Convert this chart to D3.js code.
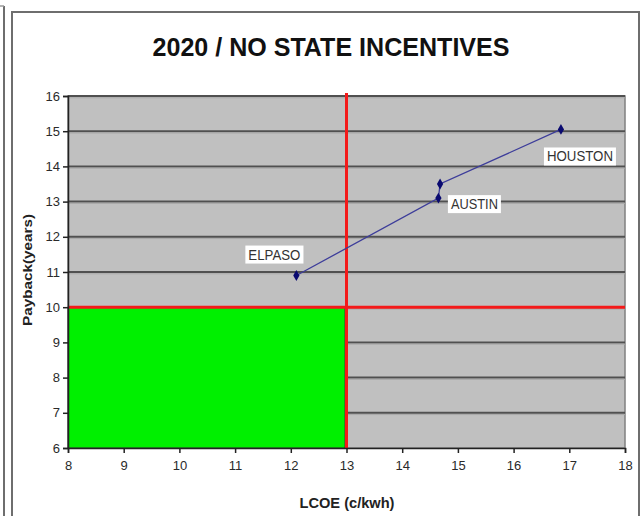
<!DOCTYPE html>
<html>
<head>
<meta charset="utf-8">
<script src="https://cdn.jsdelivr.net/npm/d3@7"></script>
<style>
  html, body { margin: 0; padding: 0; background: #fff; }
  svg { display: block; font-family: "Liberation Sans", Arial, sans-serif; }
</style>
</head>
<body>
<svg id="chart" width="641" height="516"></svg>
<script>
// City results: levelized cost of energy vs. payback period
const cities   = ["ELPASO", "AUSTIN", "", "HOUSTON"];
const lcoe     = [12.1, 14.65, 14.68, 16.85];
const payback  = [10.9, 13.1, 13.5, 15.05];

// Target thresholds (shaded "good" zone lies below/left of these)
const lcoeTarget = 13;
const paybackTarget = 10;

// Axis ticks
const xTicks = [8, 9, 10, 11, 12, 13, 14, 15, 16, 17, 18];
const yTicks = [6, 7, 8, 9, 10, 11, 12, 13, 14, 15, 16];

const titleText = "2020 / NO STATE INCENTIVES";
const xTitle = "LCOE (c/kwh)";
const yTitle = "Payback(years)";

const svg = d3.select("#chart");

const x = d3.scaleLinear().domain([8, 18]).range([68, 625]);
const y = d3.scaleLinear().domain([6, 16]).range([448, 96]);

// Outer frame
svg.append("line").attr("x1", 4).attr("x2", 4).attr("y1", 6).attr("y2", 516)
  .attr("stroke", "#6e6e6e").attr("stroke-width", 2);
svg.append("line").attr("x1", 0).attr("x2", 4).attr("y1", 6).attr("y2", 6)
  .attr("stroke", "#9a9a9a").attr("stroke-width", 1.5);
svg.append("rect").attr("x", 12).attr("y", 12).attr("width", 627).attr("height", 520)
  .attr("fill", "#fff").attr("stroke", "#6e6e6e").attr("stroke-width", 2);

// Plot area
svg.append("rect")
  .attr("x", x(8)).attr("y", y(16))
  .attr("width", x(18) - x(8)).attr("height", y(6) - y(16))
  .attr("fill", "#c0c0c0").attr("stroke", "#808080").attr("stroke-width", 1.5);

// Horizontal gridlines
svg.append("g").selectAll("line")
  .data(yTicks.filter(v => v > 6))
  .join("line")
  .attr("x1", x(8)).attr("x2", x(18))
  .attr("y1", d => y(d)).attr("y2", d => y(d))
  .attr("stroke", "#505050").attr("stroke-width", 2);
svg.append("g").selectAll("line")
  .data(yTicks.filter(v => v > 6))
  .join("line")
  .attr("x1", x(8)).attr("x2", x(18))
  .attr("y1", d => y(d) + 1.8).attr("y2", d => y(d) + 1.8)
  .attr("stroke", "#a8a8a8").attr("stroke-width", 1);

// Target zone
svg.append("rect")
  .attr("x", x(8)).attr("y", y(paybackTarget))
  .attr("width", x(lcoeTarget) - x(8) - 1.5)
  .attr("height", y(6) - y(paybackTarget))
  .attr("fill", "#00f000").attr("stroke", "#3a3a3a").attr("stroke-width", 1);

// Threshold lines
svg.append("line")
  .attr("x1", x(8)).attr("x2", x(18))
  .attr("y1", y(paybackTarget)).attr("y2", y(paybackTarget))
  .attr("stroke", "#f41a1a").attr("stroke-width", 3);
svg.append("line")
  .attr("x1", x(lcoeTarget)).attr("x2", x(lcoeTarget))
  .attr("y1", y(16) - 3).attr("y2", y(6))
  .attr("stroke", "#f41a1a").attr("stroke-width", 3);

// Axes
const yAxis = svg.append("g")
  .attr("transform", `translate(${x(8)},0)`)
  .call(d3.axisLeft(y).tickValues(yTicks).tickFormat(d3.format("d")).tickSize(5).tickPadding(3));
const xAxis = svg.append("g")
  .attr("transform", `translate(0,${y(6)})`)
  .call(d3.axisBottom(x).tickValues(xTicks).tickFormat(d3.format("d")).tickSize(5).tickPadding(8));
[yAxis, xAxis].forEach(g => {
  g.select(".domain").attr("stroke", "#222").attr("stroke-width", 1.5);
  g.selectAll(".tick line").attr("stroke", "#222").attr("stroke-width", 1.5);
  g.selectAll(".tick text").attr("fill", "#2a2a2a").style("font-size", "13px")
    .style("font-family", "'Liberation Sans', Arial, sans-serif");
});

// Data line and markers
const pts = lcoe.map((v, i) => ({ x: v, y: payback[i], name: cities[i] }));
svg.append("path")
  .datum(pts)
  .attr("d", d3.line().x(d => x(d.x)).y(d => y(d.y)))
  .attr("fill", "none").attr("stroke", "#3d3d9a").attr("stroke-width", 1.3);
svg.append("g").selectAll("path")
  .data(pts)
  .join("path")
  .attr("transform", d => `translate(${x(d.x)},${y(d.y)})`)
  .attr("d", d3.symbol(d3.symbolDiamond, 34))
  .attr("fill", "#0a0a70");

// Data labels with white boxes
const labelOffset = { ELPASO: [-22, -21], AUSTIN: [36, 6], HOUSTON: [19, 27] };
const labelWidth = { ELPASO: 52, AUSTIN: 47, HOUSTON: 66 };
const lab = svg.append("g").selectAll("g")
  .data(pts.filter(d => d.name))
  .join("g")
  .attr("transform", d => {
    const o = labelOffset[d.name];
    return `translate(${x(d.x) + o[0]},${y(d.y) + o[1]})`;
  });
lab.append("text")
  .attr("text-anchor", "middle").attr("dy", "0.36em")
  .attr("textLength", d => labelWidth[d.name]).attr("lengthAdjust", "spacingAndGlyphs")
  .style("font-size", "14px").attr("fill", "#333")
  .text(d => d.name);
lab.each(function() {
  const g = d3.select(this);
  const bb = g.select("text").node().getBBox();
  g.insert("rect", "text")
    .attr("x", bb.x - 3).attr("y", bb.y - 1)
    .attr("width", bb.width + 6).attr("height", bb.height + 2)
    .attr("fill", "#fff");
});

// Titles
svg.append("text")
  .attr("x", 331).attr("y", 56)
  .attr("text-anchor", "middle")
  .attr("textLength", 357).attr("lengthAdjust", "spacingAndGlyphs")
  .style("font-size", "25px").style("font-weight", "bold").attr("fill", "#111")
  .text(titleText);
svg.append("text")
  .attr("x", 347).attr("y", 508)
  .attr("text-anchor", "middle")
  .attr("textLength", 95).attr("lengthAdjust", "spacingAndGlyphs")
  .style("font-size", "14px").style("font-weight", "bold").attr("fill", "#222")
  .text(xTitle);
svg.append("text")
  .attr("transform", "translate(32,270) rotate(-90)")
  .attr("text-anchor", "middle")
  .attr("textLength", 112).attr("lengthAdjust", "spacingAndGlyphs")
  .style("font-size", "12px").style("font-weight", "bold").attr("fill", "#222")
  .text(yTitle);
</script>
</body>
</html>
